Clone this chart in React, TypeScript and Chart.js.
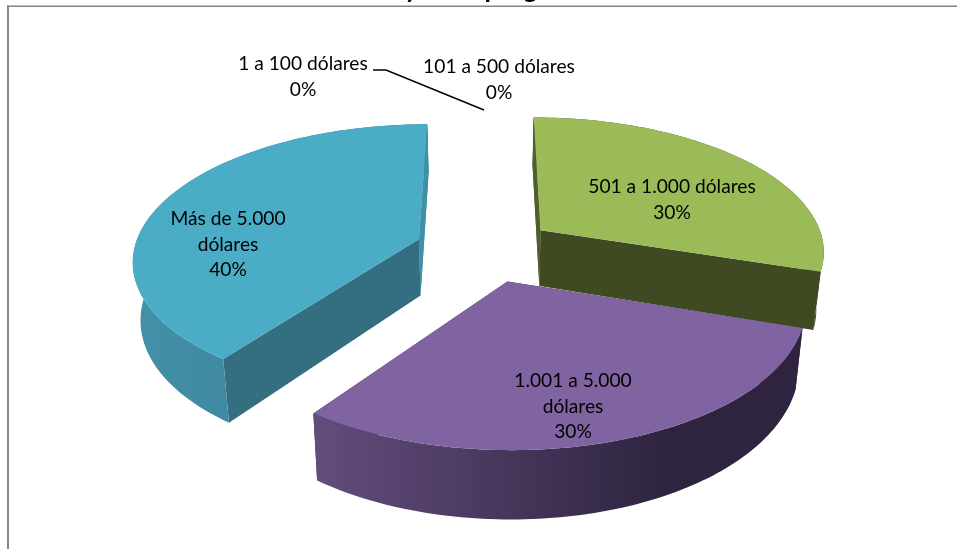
import React, { useEffect, useRef } from "react";
import { Chart, registerables } from "chart.js";

Chart.register(...registerables);

const categories = ["1 a 100 dólares", "101 a 500 dólares", "501 a 1.000 dólares", "1.001 a 5.000 dólares", "Más de 5.000 dólares"];
const values = [0, 0, 30, 30, 40];
const labelLines = [["1 a 100 dólares"], ["101 a 500 dólares"], ["501 a 1.000 dólares"], ["1.001 a 5.000", "dólares"], ["Más de 5.000", "dólares"]];
const labelCentres = [[303, 64], [499, 67], [672, 187], [573, 381], [228, 219]];
const titleText = "Montos y total programados\u00A0\u00A0\u00A0\u00A0";

const topColours = ["#F79646", "#C0504D", "#9BBB59", "#8064A2", "#4BACC6"];
const cutColours = ["#000", "#000", "#3F4A23", "#33273F", "#336F80"];
const wallLeft = ["#000", "#000", "#3F4A23", "#634D7C", "#4390A8"];
const wallRight = ["#000", "#000", "#3F4A23", "#2E2440", "#377C90"];

const OFFSET_Y = 26;
const RX = 285, RY = 134, K = 0.144, DEPTH = 57, BOTTOM_SCALE = 0.978;

const pie3d = {
  id: "pie3d",
  beforeDraw(chart: any) {
    const c = chart.ctx;
    c.save();
    c.fillStyle = "#868686";
    c.fillRect(7, 5.5 + OFFSET_Y, 950, 1.5);
    c.fillRect(7, 5.5 + OFFSET_Y, 2, 549);
    c.restore();
  },
  beforeDatasetsDraw(chart: any) {
    const c = chart.ctx;
    const meta = chart.getDatasetMeta(0);
    const arcs = meta.data.map((arc: any, i: number) => ({ arc, i })).filter((d: any) => values[d.i] > 0);
    const mid = (a: any) => (a.startAngle + a.endAngle) / 2;
    arcs.sort((p: any, q: any) => Math.sin(mid(p.arc)) - Math.sin(mid(q.arc)));

    for (const { arc, i } of arcs) {
      const R = arc.outerRadius;
      const e = arc.options.offset / R;
      const m = mid(arc);
      const ex = e * Math.cos(m), ey = -e * Math.sin(m);
      const project = (u0: number, v0: number, bottom: boolean): [number, number] => {
        const u = u0 + ex, v = v0 + ey;
        const w = 1 + K * v;
        let x = (RX * u) / w;
        let y = (-RY * v) / w;
        if (bottom) { x *= BOTTOM_SCALE; y += DEPTH / w; }
        return [arc.x + x, arc.y + y];
      };
      const steps = 90;
      const rim = (bottom: boolean) => {
        const pts: [number, number][] = [];
        for (let s = 0; s <= steps; s++) {
          const a = arc.startAngle + ((arc.endAngle - arc.startAngle) * s) / steps;
          pts.push(project(Math.cos(a), -Math.sin(a), bottom));
        }
        return pts;
      };
      const poly = (pts: [number, number][], fill: any) => {
        c.beginPath();
        pts.forEach((p, n) => (n ? c.lineTo(p[0], p[1]) : c.moveTo(p[0], p[1])));
        c.closePath();
        c.fillStyle = fill;
        c.fill();
      };
      const top = rim(false), bot = rim(true);
      const a0 = project(0, 0, false), a1 = project(0, 0, true);
      const startCut = [a0, top[0], bot[0], a1] as [number, number][];
      const endCut = [a0, top[steps], bot[steps], a1] as [number, number][];
      // cut faces
      poly(startCut, i === 2 ? "#4F5F2A" : cutColours[i]);
      poly(endCut, i === 4 ? "#3F8FA6" : cutColours[i]);
      // outer wall
      const xs = [...top, ...bot].map((p) => p[0]);
      const lo = Math.min(...xs), hi = Math.max(...xs);
      const g = c.createLinearGradient(lo, 0, i === 3 ? lo + (hi - lo) * 0.72 : hi, 0);
      g.addColorStop(0, wallLeft[i]);
      g.addColorStop(1, wallRight[i]);
      poly([...top, ...bot.slice().reverse()], g);
      // side faces that sit in front of the back of the wall
      if (i === 4) poly(endCut, "#3F8FA6");
      if (i === 2) poly(startCut, "#4F5F2A");
      // top face
      poly([a0, ...top], topColours[i]);
    }
    return false;
  },
  afterDraw(chart: any) {
    const c = chart.ctx;
    c.save();
    c.fillStyle = "#000";
    c.textAlign = "center";
    c.textBaseline = "middle";
    c.font = "19.2px Lato";
    const total = values.reduce((a, b) => a + b, 0);
    labelLines.forEach((lines, i) => {
      const [x, y] = labelCentres[i];
      [...lines, `${Math.round((values[i] / total) * 100)}%`].forEach((t, n) => {
        c.fillText(t, x, y + OFFSET_Y + n * 25.5);
      });
    });
    c.strokeStyle = "#000";
    c.lineWidth = 1.5;
    c.beginPath();
    c.moveTo(373, 70 + OFFSET_Y);
    c.lineTo(386, 70 + OFFSET_Y);
    c.lineTo(484, 110 + OFFSET_Y);
    c.stroke();
    c.restore();
  },
};

export default function App() {
  const ref = useRef<HTMLCanvasElement>(null);
  useEffect(() => {
    const chart = new Chart(ref.current as HTMLCanvasElement, {
      type: "pie",
      data: {
        labels: categories,
        datasets: [{ data: values, backgroundColor: topColours, borderWidth: 0, offset: 53.4 }],
      },
      options: {
        responsive: false,
        animation: false,
        rotation: 0,
        layout: { padding: { left: 13, right: 0, top: 0, bottom: 56 } },
        plugins: {
          legend: { display: false },
          tooltip: { enabled: false },
          title: {
            display: true,
            text: titleText,
            color: "#000",
            font: { family: "Lato", size: 26, weight: "bold" },
            padding: { top: 0, bottom: 0 },
          },
        },
      },
      plugins: [pie3d],
    } as any);
    return () => chart.destroy();
  }, []);
  return (
    <div style={{ position: "fixed", left: 0, top: 0, width: 957, height: 549, overflow: "hidden", background: "#fff" }}>
      <canvas ref={ref} width={957} height={575} style={{ position: "absolute", left: 0, top: -OFFSET_Y, display: "block" }} />
    </div>
  );
}
